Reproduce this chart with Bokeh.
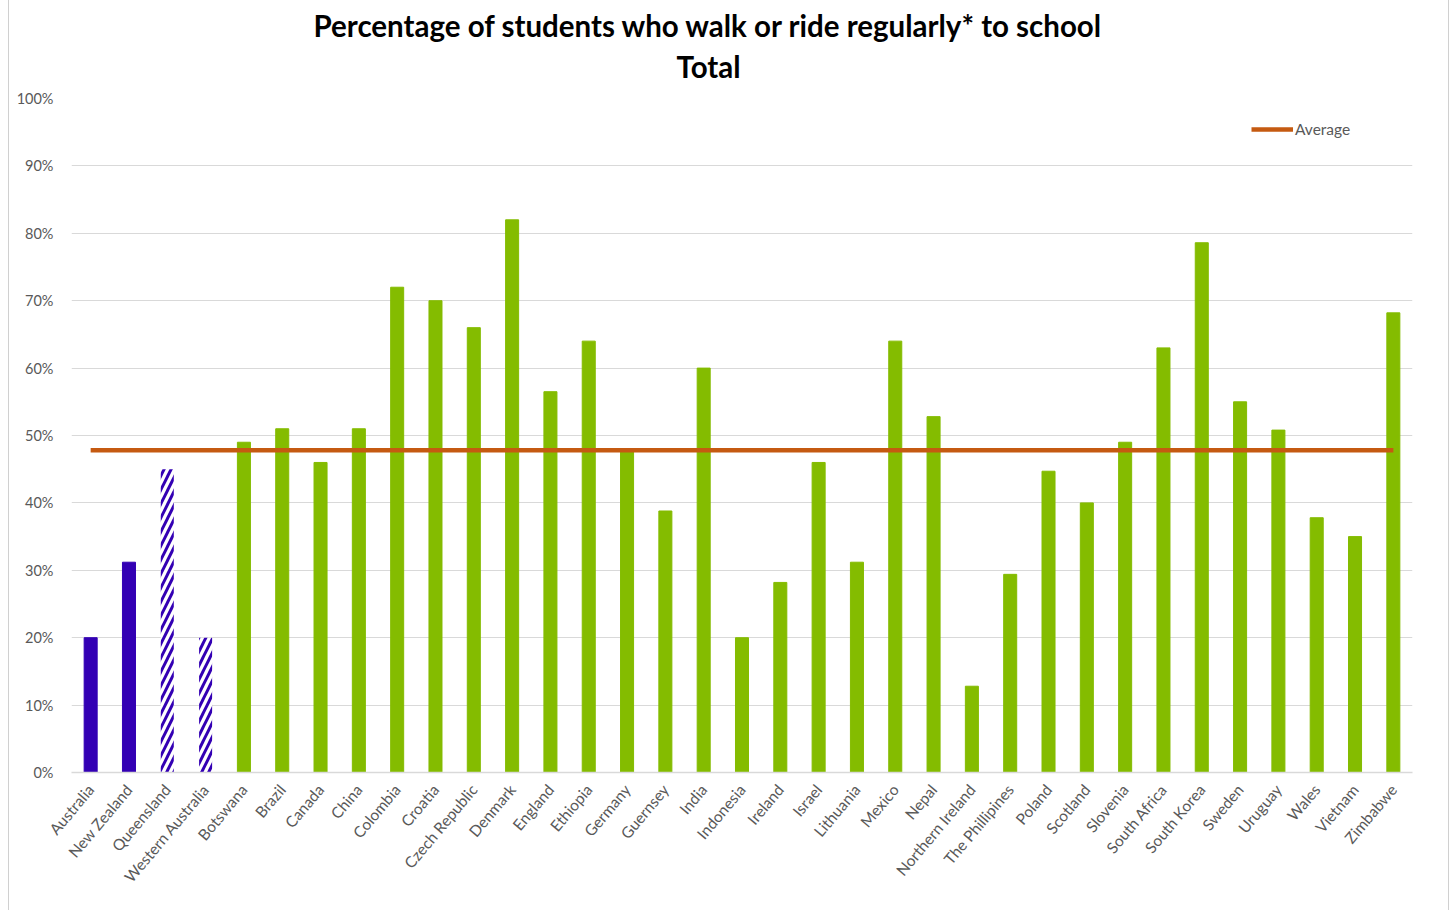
from math import radians

from bokeh.embed import file_html
from bokeh.models import (FactorRange, FixedTicker, Legend, LegendItem,
                          PrintfTickFormatter, Range1d, Title)
from bokeh.plotting import figure
from bokeh.resources import INLINE

# Australian results (solid) and Australian state results (hatched)
aus_regions = ["Australia", "New Zealand"]
aus_values = [20, 31.2]
aus_states = ["Queensland", "Western Australia"]
aus_state_values = [45, 20]

# International results
countries = ["Botswana", "Brazil", "Canada", "China", "Colombia", "Croatia",
             "Czech Republic", "Denmark", "England", "Ethiopia", "Germany",
             "Guernsey", "India", "Indonesia", "Ireland", "Israel", "Lithuania",
             "Mexico", "Nepal", "Northern Ireland", "The Phillipines", "Poland",
             "Scotland", "Slovenia", "South Africa", "South Korea", "Sweden",
             "Uruguay", "Wales", "Vietnam", "Zimbabwe"]
country_values = [49, 51, 46, 51, 72, 70, 66, 82, 56.5, 64, 48, 38.8, 60, 20,
                  28.2, 46, 31.2, 64, 52.8, 12.8, 29.4, 44.7, 40, 49, 63, 78.6,
                  55, 50.8, 37.8, 35, 68.2]

AVERAGE = 47.8
y_ticks = list(range(0, 101, 10))

all_factors = aus_regions + aus_states + countries

FONT = "Lato"
GRID = "#D9D9D9"
LABEL = "#595959"

p = figure(width=1441, height=910, output_backend="svg", toolbar_location=None,
           title=None,
           x_range=FactorRange(*all_factors), y_range=Range1d(0, 100),
           min_border_left=62, min_border_right=38, min_border_top=98,
           min_border_bottom=138, margin=(0, 0, 0, 8),
           styles={"border-left": "1px solid #D0D0D0",
                   "border-right": "1px solid #D0D0D0"})
p.outline_line_color = None
p.background_fill_color = "white"
p.border_fill_color = "white"

BAR_W = 0.34
p.vbar(x=aus_regions, top=aus_values, width=BAR_W, color="#3300B4")
p.vbar(x=aus_states, top=aus_state_values, width=BAR_W, fill_color="white",
       line_color=None, hatch_pattern="/", hatch_color="#3300B4",
       hatch_scale=14, hatch_weight=3)
p.vbar(x=countries, top=country_values, width=BAR_W, color="#84BC00")

avg = p.line(x=[all_factors[0], all_factors[-1]], y=[AVERAGE, AVERAGE],
             line_color="#C55A11", line_width=4.5)

legend = Legend(items=[LegendItem(label="Average", renderers=[avg])],
                location=(1180, 634), background_fill_alpha=0,
                border_line_color=None, glyph_width=42, glyph_height=10,
                label_standoff=2, padding=0, margin=0,
                label_text_font=FONT, label_text_font_size="15.5px",
                label_text_color=LABEL)
p.add_layout(legend, "center")

# Axes and grid
p.xgrid.grid_line_color = None
p.ygrid.grid_line_color = GRID
p.ygrid.ticker = FixedTicker(ticks=y_ticks)
p.yaxis.ticker = FixedTicker(ticks=y_ticks)
p.yaxis.formatter = PrintfTickFormatter(format="%d%%")
p.yaxis.axis_line_color = None
p.yaxis.major_tick_line_color = None
p.yaxis.minor_tick_line_color = None
p.yaxis.major_label_standoff = 12
p.yaxis.major_label_text_font = FONT
p.yaxis.major_label_text_font_size = "14.5px"
p.yaxis.major_label_text_color = LABEL

p.xaxis.axis_line_color = GRID
p.xaxis.axis_line_width = 1.5
p.xaxis.major_tick_line_color = None
p.xaxis.minor_tick_line_color = None
p.xaxis.major_label_orientation = radians(50)
p.xaxis.major_label_standoff = 8
p.xaxis.major_label_text_font = FONT
p.xaxis.major_label_text_font_size = "15.5px"
p.xaxis.major_label_text_color = LABEL

# Two-line title: the subtitle is added first so it sits nearest the plot
p.add_layout(Title(text="Total", align="left", offset=605,
                   text_font=FONT, text_font_style="bold", text_font_size="29.5px",
                   text_color="#000000", standoff=29), "above")
p.add_layout(Title(text="Percentage of students who walk or ride regularly* to school",
                   align="left", offset=242,
                   text_font=FONT, text_font_style="bold", text_font_size="29.5px",
                   text_color="#000000", standoff=-20), "above")

open("out.html", "w").write(file_html(p, INLINE))
